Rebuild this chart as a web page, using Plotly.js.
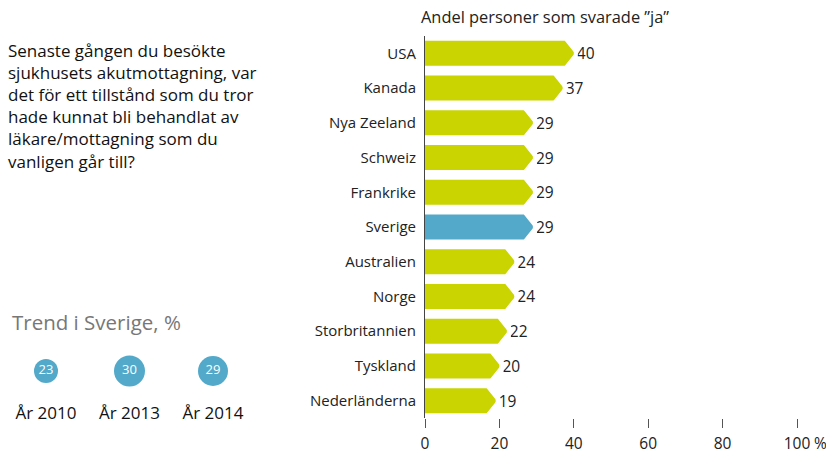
<!DOCTYPE html>
<html>
<head>
<meta charset="utf-8">
<script src="https://cdn.plot.ly/plotly-3.0.1.min.js"></script>
<style>html,body{margin:0;padding:0;background:#fff}#chart{width:826px;height:453px}</style>
</head>
<body>
<div id="chart"></div>
<script>
// ---- Data ----
const countries = ["USA","Kanada","Nya Zeeland","Schweiz","Frankrike","Sverige","Australien","Norge","Storbritannien","Tyskland","Nederländerna"];
const shares = [40,37,29,29,29,29,24,24,22,20,19];
const highlight = "Sverige";
const trendYears = ["År 2010","År 2013","År 2014"];
const trendValues = [23,30,29];
const xTickVals = [0,20,40,60,80,100];
const xTickText = ["0","20","40","60","80","100"];
const chartTitle = "Andel personer som svarade ”ja”";
const questionText = "Senaste gången du besökte<br>sjukhusets akutmottagning, var<br>det för ett tillstånd som du tror<br>hade kunnat bli behandlat av<br>läkare/mottagning som du<br>vanligen går till?";
const trendTitle = "Trend i Sverige, %";

// ---- Style ----
const FONT = "'Open Sans', sans-serif";
const GREEN = "#c9d400";
const BLUE = "#53a9c9";
const W = 826, H = 453;
const M = {l:0, r:29, t:36, b:35};
const plotW = W - M.l - M.r, plotH = H - M.t - M.b;
const axisLeftPx = 425;

const barColors = countries.map(c => c === highlight ? BLUE : GREEN);

const barTrace = {
  type: "bar", orientation: "h",
  y: countries, x: shares,
  marker: {color: barColors, line: {width: 0}},
  text: shares.map(String), textposition: "outside",
  textfont: {family: FONT, size: 15.5, color: "#222"},
  cliponaxis: false, hoverinfo: "skip", xaxis: "x", yaxis: "y"
};

const trendTrace = {
  type: "scatter", mode: "markers+text",
  x: trendYears, y: trendYears.map(() => 0),
  marker: {size: trendValues.map(v => v + 1), color: BLUE, opacity: 1, line: {width: 0}},
  text: trendValues.map(String), textposition: "middle center",
  textfont: {family: FONT, size: 13, color: "#fff"},
  cliponaxis: false, hoverinfo: "skip", xaxis: "x2", yaxis: "y2"
};

// white notch masks turning each bar end into an arrow point
const shapes = shares.map((v, i) => ({
  type: "path", xref: "x", yref: "y",
  xsizemode: "pixel", ysizemode: "pixel",
  xanchor: v, yanchor: i,
  path: "M-9,12.5L1,0L-9,-12.5L-9,-15L4,-15L4,15L-9,15Z",
  fillcolor: "#fff", line: {width: 0}, layer: "above"
}));

const pxToPaperX = px => (px - M.l) / plotW;
const pxToPaperY = py => (H - M.b - py) / plotH;

const layout = {
  width: W, height: H, margin: M,
  paper_bgcolor: "#fff", plot_bgcolor: "#fff",
  showlegend: false,
  font: {family: FONT, color: "#222"},
  title: {text: chartTitle, font: {family: FONT, size: 16.4, color: "#222"},
          xref: "container", yref: "container", x: 421 / W, xanchor: "left",
          y: 1 - 17 / H, yanchor: "middle"},
  bargap: 0.28,
  xaxis: {domain: [pxToPaperX(axisLeftPx), 1], range: [0, 100], tickvals: xTickVals, ticktext: xTickText,
          ticks: "outside", ticklen: 9, tickcolor: "#555", tickwidth: 1, ticklabelstandoff: 2,
          showgrid: false, zeroline: false, showline: false, fixedrange: true,
          tickfont: {family: FONT, size: 15.5, color: "#222"}, automargin: false},
  yaxis: {type: "category", autorange: "reversed", showline: true, linecolor: "#444", linewidth: 1,
          ticks: "", ticklabelstandoff: 5, showgrid: false, zeroline: false, fixedrange: true,
          tickfont: {family: FONT, size: 15, color: "#222"}, automargin: false},
  xaxis2: {domain: [pxToPaperX(4.25), pxToPaperX(254.75)], anchor: "y2", type: "category",
           range: [-0.5, 2.5], showline: false, ticks: "", showgrid: false, zeroline: false,
           tickfont: {family: FONT, size: 17, color: "#111"}, automargin: false},
  yaxis2: {domain: [pxToPaperY(401), pxToPaperY(341)], anchor: "x2", range: [-1, 1],
           visible: false, showgrid: false, zeroline: false},
  shapes: shapes,
  annotations: [
    {text: "%", xref: "x", yref: "paper", x: 100, y: 0, xanchor: "left", yanchor: "middle",
     xshift: 15, yshift: -25, showarrow: false, font: {family: FONT, size: 15.5, color: "#222"}},
    {text: questionText, xref: "paper", yref: "paper", x: pxToPaperX(6), y: pxToPaperY(37),
     xanchor: "left", yanchor: "top", align: "left", showarrow: false,
     font: {family: FONT, size: 17, color: "#111"}},
    {text: trendTitle, xref: "paper", yref: "paper", x: pxToPaperX(10), y: pxToPaperY(322),
     xanchor: "left", yanchor: "middle", align: "left", showarrow: false,
     font: {family: FONT, size: 20.5, color: "#777"}}
  ]
};

Plotly.newPlot("chart", [barTrace, trendTrace], layout, {displayModeBar: false, staticPlot: true});
</script>
</body>
</html>
